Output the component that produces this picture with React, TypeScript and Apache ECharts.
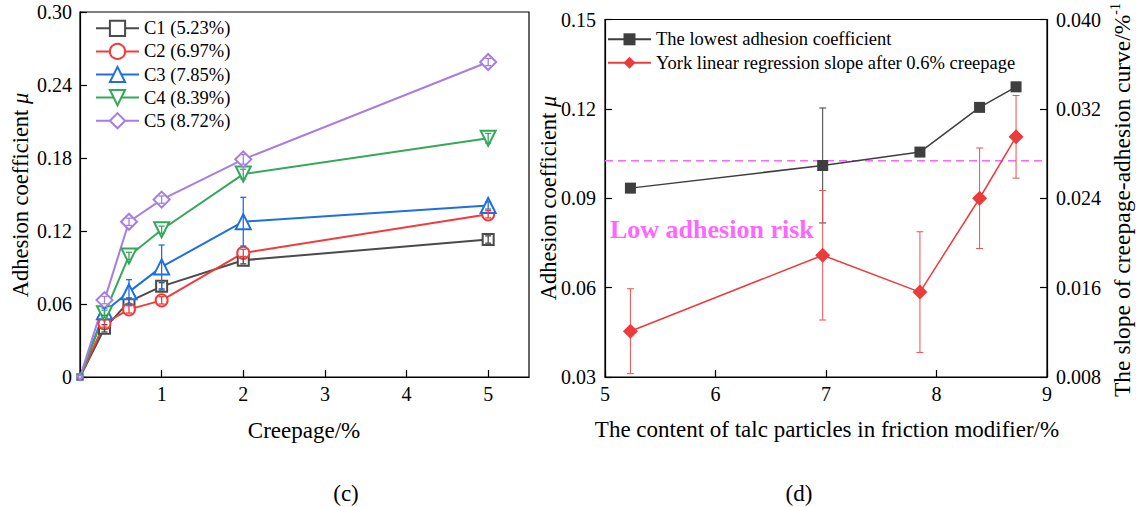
import React, { useEffect, useRef } from "react";
import * as echarts from "echarts";

// ---------- Panel (c): adhesion vs creepage ----------
const creepage = [0, 0.3, 0.6, 1, 2, 5];
const seriesNames = ["C1 (5.23%)", "C2 (6.97%)", "C3 (7.85%)", "C4 (8.39%)", "C5 (8.72%)"];
const c1 = [0, 0.040, 0.062, 0.0745, 0.096, 0.113];
const c2 = [0, 0.044, 0.0556, 0.063, 0.102, 0.1337];
const c3 = [0, 0.0537, 0.070, 0.0905, 0.1277, 0.141];
const c4 = [0, 0.052, 0.0995, 0.121, 0.1668, 0.1962];
const c5 = [0, 0.0632, 0.1276, 0.1458, 0.1789, 0.2589];
const c1Err = [0, 0.003, 0.003, 0.003, 0.003, 0.003];
const c2Err = [0, 0.003, 0.003, 0.003, 0.003, 0.003];
const c3Err = [0, 0.003, 0.010, 0.018, 0.020, 0.003];
const c4Err = [0, 0.003, 0.003, 0.003, 0.004, 0.004];
const c5Err = [0, 0.003, 0.003, 0.003, 0.004, 0.003];
const creepageTicks = [1, 2, 3, 4, 5];

// ---------- Panel (d): vs talc content ----------
const talc = [5.23, 6.97, 7.85, 8.39, 8.72];
const lowestMu = [0.0934, 0.101, 0.1055, 0.1205, 0.1274];
const lowestMuErr = [0.0015, 0.0193, 0.0015, 0.0008, 0.0015];
const yorkSlope = [0.0121, 0.0189, 0.0156, 0.024, 0.0295];
const yorkSlopeErr = [0.0038, 0.0058, 0.0054, 0.0045, 0.0037];
const riskThreshold = 0.1026;
const riskSpan = [5, 9];
const legendD = ["The lowest adhesion coefficient", "York linear regression slope after 0.6% creepage"];

const FONT = "'Liberation Serif', 'Times New Roman', serif";

function errRender(color: string, cap: number, width: number) {
  return (params: any, api: any) => {
    const x = api.value(0);
    const lo = api.value(1);
    const hi = api.value(2);
    const a = api.coord([x, lo]);
    const b = api.coord([x, hi]);
    const style = { stroke: color, lineWidth: width, fill: "none" };
    return {
      type: "group",
      children: [
        { type: "line", shape: { x1: a[0], y1: a[1], x2: b[0], y2: b[1] }, style },
        { type: "line", shape: { x1: b[0] - cap, y1: b[1], x2: b[0] + cap, y2: b[1] }, style },
        { type: "line", shape: { x1: a[0] - cap, y1: a[1], x2: a[0] + cap, y2: a[1] }, style },
      ],
    };
  };
}

function errData(xs: number[], ys: number[], es: number[]) {
  const out: number[][] = [];
  xs.forEach((x, i) => {
    if (es[i] > 0) out.push([x, ys[i] - es[i], ys[i] + es[i]]);
  });
  return out;
}

const axisLineStyle = { color: "#000", width: 1.2 };

function centered(x: number, y: number, text: string, size: number, extra: any = {}) {
  return {
    type: "text",
    x,
    y,
    style: {
      text,
      fontFamily: FONT,
      fontSize: size,
      fill: "#000",
      align: "center",
      verticalAlign: "middle",
      textAlign: "center",
      textVerticalAlign: "middle",
      ...extra,
    },
  };
}

export default function App() {
  const ref = useRef<HTMLDivElement>(null);
  useEffect(() => {
    if (!ref.current) return;
    const chart = echarts.init(ref.current, undefined, { renderer: "svg" });

    const cData = [c1, c2, c3, c4, c5];
    const cErr = [c1Err, c2Err, c3Err, c4Err, c5Err];
    const cColors = ["#4a4a4a", "#f03c3c", "#1f6fe0", "#35a85a", "#a77de4"];
    const cSymbols = ["emptyRect", "emptyCircle", "emptyTriangle", "emptyTriangle", "emptyDiamond"];
    const cSizes = [11, 12, 15, 15, 16];
    const cRot = [0, 0, 0, 180, 0];

    const series: any[] = [];
    cData.forEach((vals, i) => {
      series.push({
        name: seriesNames[i],
        type: "line",
        xAxisIndex: 0,
        yAxisIndex: 0,
        data: creepage.map((x, j) =>
          x === 0 ? { value: [x, vals[j]], symbolSize: 5 } : [x, vals[j]]
        ),
        symbol: cSymbols[i],
        symbolSize: cSizes[i],
        symbolRotate: cRot[i],
        showAllSymbol: true,
        lineStyle: { color: cColors[i], width: 2 },
        itemStyle: { color: cColors[i], borderWidth: 2 },
        z: 2,
      });
    });
    cData.forEach((vals, i) => {
      series.push({
        name: seriesNames[i] + " err",
        type: "custom",
        xAxisIndex: 0,
        yAxisIndex: 0,
        data: errData(creepage, vals, cErr[i]),
        renderItem: errRender(cColors[i], 3, 1.3),
        encode: { x: 0, y: [1, 2] },
        z: 4,
        silent: true,
      });
    });

    const black = "#3e3e3e";
    const red = "#ec3b3b";
    series.push({
      name: "risk threshold",
      type: "line",
      xAxisIndex: 1,
      yAxisIndex: 1,
      data: riskSpan.map((x) => [x, riskThreshold]),
      symbol: "none",
      lineStyle: { color: "#ff66ff", type: [8, 5], width: 1.6 },
      z: 1,
      silent: true,
    });
    series.push({
      name: legendD[0],
      type: "line",
      xAxisIndex: 1,
      yAxisIndex: 1,
      data: talc.map((x, j) => [x, lowestMu[j]]),
      symbol: "rect",
      symbolSize: 11,
      lineStyle: { color: black, width: 1.5 },
      itemStyle: { color: black },
      z: 3,
    });
    series.push({
      name: legendD[1],
      type: "line",
      xAxisIndex: 1,
      yAxisIndex: 2,
      data: talc.map((x, j) => [x, yorkSlope[j]]),
      symbol: "diamond",
      symbolSize: 15,
      lineStyle: { color: red, width: 1.5 },
      itemStyle: { color: red },
      z: 3,
    });
    series.push({
      name: "lowest err",
      type: "custom",
      xAxisIndex: 1,
      yAxisIndex: 1,
      data: errData(talc, lowestMu, lowestMuErr),
      renderItem: errRender(black, 3.5, 1),
      encode: { x: 0, y: [1, 2] },
      z: 2,
      silent: true,
    });
    series.push({
      name: "york err",
      type: "custom",
      xAxisIndex: 1,
      yAxisIndex: 2,
      data: errData(talc, yorkSlope, yorkSlopeErr),
      renderItem: errRender("#ee5050", 3.5, 1),
      encode: { x: 0, y: [1, 2] },
      z: 2,
      silent: true,
    });

    const tickLabel = { fontFamily: FONT, fontSize: 20, color: "#000" };
    const yTitleRich = {
      n: { fontFamily: FONT, fontSize: 22.5, fill: "#000" },
      i: { fontFamily: FONT, fontSize: 22.5, fontStyle: "italic", fill: "#000" },
    };

    const option: any = {
      animation: false,
      backgroundColor: "#fff",
      grid: [
        { left: 80, top: 12, width: 449, height: 365, show: true, borderColor: "#000", borderWidth: 1.2, backgroundColor: "transparent" },
        { left: 605, top: 19.5, width: 442, height: 357.5, show: true, borderColor: "#000", borderWidth: 1.2, backgroundColor: "transparent" },
      ],
      xAxis: [
        {
          type: "value",
          gridIndex: 0,
          min: 0,
          max: 5.5,
          interval: 1,
          splitLine: { show: false },
          axisLine: { show: true, lineStyle: axisLineStyle },
          axisTick: { show: true, inside: true, length: 7, lineStyle: axisLineStyle },
          axisLabel: {
            ...tickLabel,
            margin: 7,
            showMaxLabel: false,
            formatter: (v: number) => (creepageTicks.indexOf(v) >= 0 ? String(v) : ""),
          },
        },
        {
          type: "value",
          gridIndex: 1,
          min: 5,
          max: 9,
          interval: 1,
          splitLine: { show: false },
          axisLine: { show: true, lineStyle: axisLineStyle },
          axisTick: { show: true, inside: true, length: 7, lineStyle: axisLineStyle },
          axisLabel: { ...tickLabel, margin: 7, formatter: (v: number) => String(v) },
        },
      ],
      yAxis: [
        {
          type: "value",
          gridIndex: 0,
          min: 0,
          max: 0.3,
          interval: 0.06,
          splitLine: { show: false },
          axisLine: { show: true, lineStyle: axisLineStyle },
          axisTick: { show: true, inside: true, length: 7, lineStyle: axisLineStyle },
          axisLabel: { ...tickLabel, margin: 8, formatter: (v: number) => (v === 0 ? "0" : v.toFixed(2)) },
        },
        {
          type: "value",
          gridIndex: 1,
          min: 0.03,
          max: 0.15,
          interval: 0.03,
          splitLine: { show: false },
          axisLine: { show: true, lineStyle: axisLineStyle },
          axisTick: { show: true, inside: true, length: 7, lineStyle: axisLineStyle },
          axisLabel: { ...tickLabel, margin: 9, formatter: (v: number) => v.toFixed(2) },
        },
        {
          type: "value",
          gridIndex: 1,
          position: "right",
          min: 0.008,
          max: 0.04,
          interval: 0.008,
          splitLine: { show: false },
          axisLine: { show: true, lineStyle: axisLineStyle },
          axisTick: { show: true, inside: true, length: 7, lineStyle: axisLineStyle },
          axisLabel: { ...tickLabel, margin: 9, formatter: (v: number) => v.toFixed(3) },
        },
      ],
      legend: [
        {
          data: seriesNames,
          orient: "vertical",
          left: 95,
          top: 16.8,
          padding: 0,
          itemGap: 0.1,
          itemWidth: 43,
          itemHeight: 19,
          selectedMode: false,
          textStyle: { fontFamily: FONT, fontSize: 18.5, color: "#000", lineHeight: 23 },
        },
        {
          data: legendD,
          orient: "vertical",
          left: 607,
          top: 27.8,
          padding: 0,
          itemGap: 0.4,
          itemWidth: 43,
          itemHeight: 15,
          selectedMode: false,
          textStyle: { fontFamily: FONT, fontSize: 18.5, color: "#000", lineHeight: 23 },
        },
      ],
      graphic: [
        {
          type: "text",
          x: 20.5,
          y: 195,
          rotation: Math.PI / 2,
          style: {
            text: "{n|Adhesion coefficient }{i|μ}",
            align: "center",
            verticalAlign: "middle",
            textAlign: "center",
            textVerticalAlign: "middle",
            rich: yTitleRich,
          },
        },
        {
          type: "text",
          x: 548,
          y: 198,
          rotation: Math.PI / 2,
          style: {
            text: "{n|Adhesion coefficient }{i|μ}",
            align: "center",
            verticalAlign: "middle",
            textAlign: "center",
            textVerticalAlign: "middle",
            rich: yTitleRich,
          },
        },
        {
          type: "text",
          x: 1122,
          y: 200,
          rotation: Math.PI / 2,
          style: {
            text: "{n|The slope of creepage-adhesion curve/%}{s|-1}",
            align: "center",
            verticalAlign: "middle",
            textAlign: "center",
            textVerticalAlign: "middle",
            rich: {
              n: { fontFamily: FONT, fontSize: 23.5, fill: "#000", lineHeight: 28 },
              s: { fontFamily: FONT, fontSize: 14, fill: "#000", verticalAlign: "top", lineHeight: 28 },
            },
          },
        },
        centered(304, 430.5, "Creepage/%", 23),
        centered(827, 429, "The content of talc particles in friction modifier/%", 23),
        {
          type: "text",
          x: 610,
          y: 229,
          style: {
            text: "Low adhesion risk",
            fontFamily: FONT,
            fontSize: 26,
            fontWeight: "bold",
            fill: "#ff66ff",
            align: "left",
            verticalAlign: "middle",
            textAlign: "left",
            textVerticalAlign: "middle",
          },
        },
        centered(346, 493, "(c)", 23),
        centered(799, 493, "(d)", 23),
      ],
      series,
    };
    chart.setOption(option);
    return () => chart.dispose();
  }, []);
  return (
    <div
      ref={ref}
      style={{ position: "fixed", left: 0, top: 0, width: 1136, height: 507, background: "#fff" }}
    />
  );
}
